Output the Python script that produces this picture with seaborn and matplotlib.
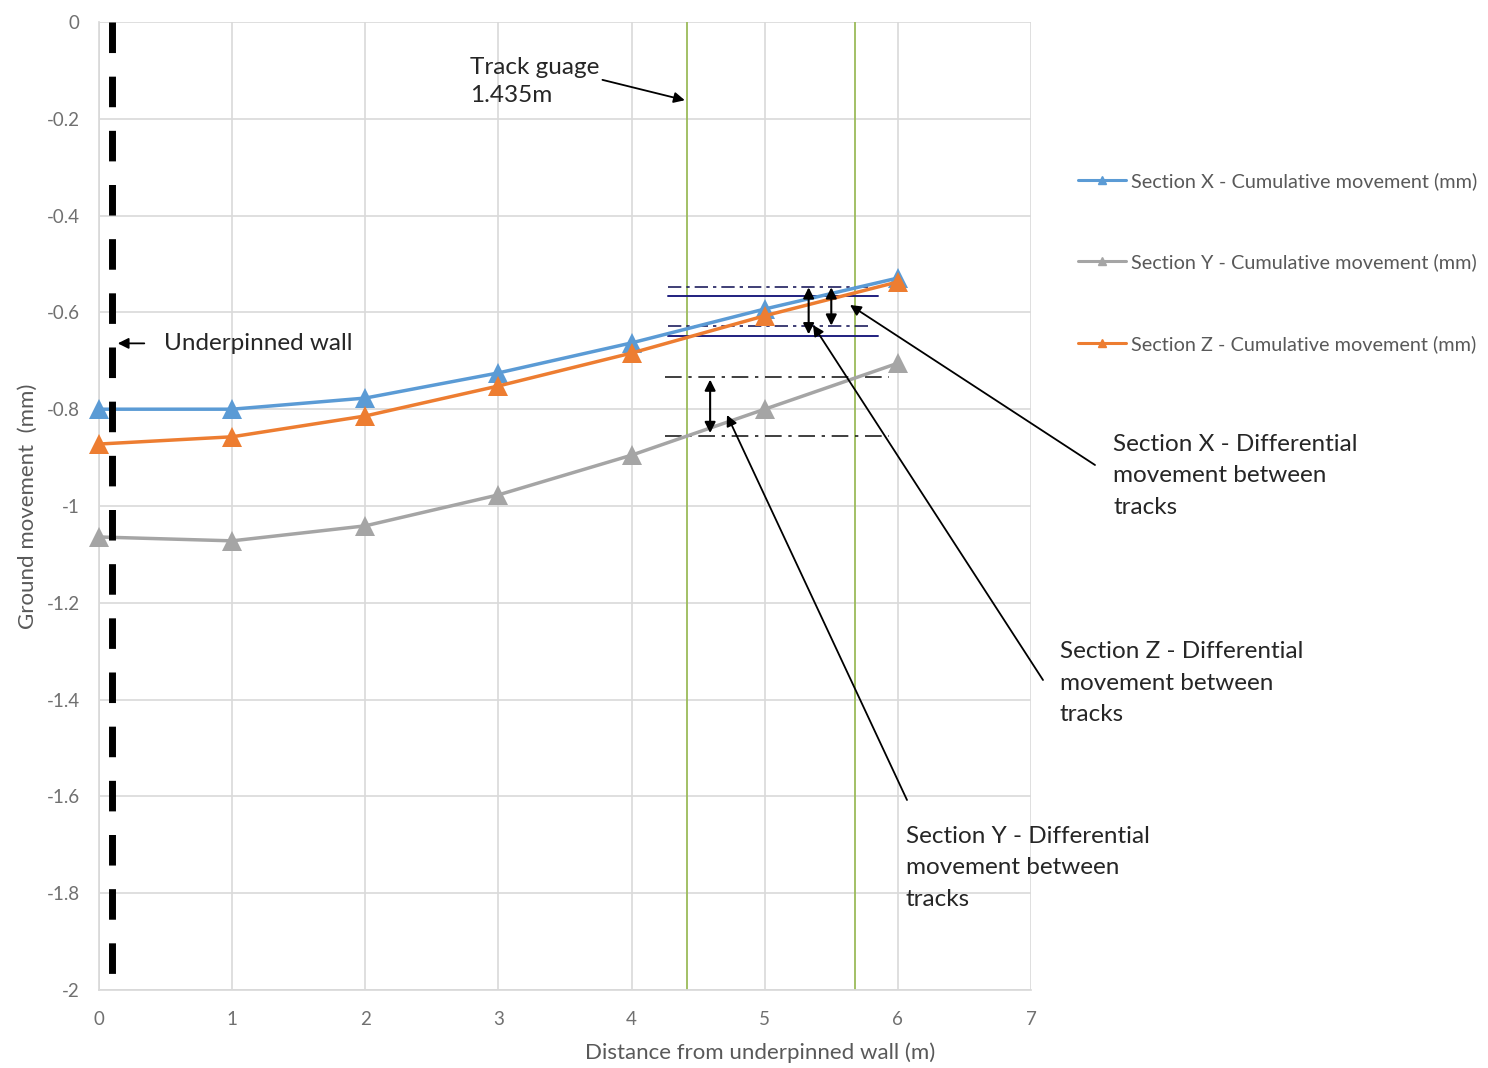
import numpy as np
import pandas as pd
import matplotlib
matplotlib.use("Agg")
import matplotlib.pyplot as plt
import seaborn as sns

## ==========================================
## Data
## ==========================================

distance = [0, 1, 2, 3, 4, 5, 6]

section_x = [-0.80, -0.80, -0.777, -0.725, -0.663, -0.593, -0.529]
section_y = [-1.064, -1.072, -1.041, -0.977, -0.895, -0.80, -0.705]
section_z = [-0.872, -0.857, -0.814, -0.752, -0.684, -0.607, -0.537]

series_names = [
    "Section X - Cumulative movement (mm)",
    "Section Y - Cumulative movement (mm)",
    "Section Z - Cumulative movement (mm)",
]

x_ticks = [0, 1, 2, 3, 4, 5, 6, 7]
y_ticks = [0, -0.2, -0.4, -0.6, -0.8, -1, -1.2, -1.4, -1.6, -1.8, -2]
y_tick_labels = ["0", "-0.2", "-0.4", "-0.6", "-0.8", "-1", "-1.2", "-1.4", "-1.6", "-1.8", "-2"]

wall_x = 0.1
track_rails = [4.42, 5.68]

## reference levels for differential movement
diff_levels_dashdot = [-0.5475, -0.628]
diff_levels_solid = [-0.566, -0.649]
diff_levels_y = [-0.733, -0.855]

## ==========================================
## Long-form table for seaborn
## ==========================================

df = pd.DataFrame({
    "Distance": distance * 3,
    "Movement": section_x + section_y + section_z,
    "Series": [series_names[0]] * 7 + [series_names[1]] * 7 + [series_names[2]] * 7,
})

palette = {
    series_names[0]: "#5B9BD5",
    series_names[1]: "#A5A5A5",
    series_names[2]: "#ED7D31",
}

## ==========================================
## Plot
## ==========================================

sns.set_theme(style="white")
plt.rcParams["font.family"] = ["Lato", "DejaVu Sans"]

fig = plt.figure(figsize=(14.88, 10.68), dpi=100)
ax = fig.add_axes([99 / 1488, 78 / 1068, 932 / 1488, 968 / 1068])

sns.lineplot(
    data=df, x="Distance", y="Movement", hue="Series",
    palette=palette, marker="^", markersize=15, markeredgewidth=0,
    linewidth=2.5, ax=ax, legend=False, zorder=3,
)
for ln in ax.lines:
    ln.set_clip_on(False)

ax.set_xlim(0, 7)
ax.set_ylim(-2, 0)
ax.set_xticks(x_ticks)
ax.set_yticks(y_ticks)
ax.set_yticklabels(y_tick_labels)
ax.grid(True, color="#D9D9D9", linewidth=1.2)
ax.tick_params(axis="both", length=0, labelsize=13.5, labelcolor="#707070")
ax.tick_params(axis="x", pad=15)
ax.tick_params(axis="y", pad=14)

for side in ["top", "right"]:
    ax.spines[side].set_visible(False)
for side in ["left", "bottom"]:
    ax.spines[side].set_color("#D9D9D9")

ax.set_xlabel("Distance from underpinned wall (m)", fontsize=16, color="#595959")
ax.xaxis.set_label_coords((760 - 99) / 932, -(1042 - 990) / 968)
ax.set_ylabel("Ground movement  (mm)", fontsize=16, color="#595959", labelpad=6)

## underpinned wall
ax.plot([wall_x, wall_x], [0, -2], color="black", linewidth=5,
        linestyle=(0, (4.4, 3.4)), zorder=4)

## track rails
for rx in track_rails:
    ax.axvline(rx, color="#9BBB59", linewidth=1.3, zorder=2)

## differential movement guides
for lv in diff_levels_dashdot:
    ax.plot([4.27, 5.8], [lv, lv], color="#1F1F5F", linewidth=1.2,
            linestyle=(0, (8, 3, 2, 3)), zorder=2)
for lv in diff_levels_solid:
    ax.plot([4.27, 5.85], [lv, lv], color="#1F1F7F", linewidth=1.4, zorder=2)
for lv in diff_levels_y:
    ax.plot([4.25, 5.93], [lv, lv], color="#1F1F1F", linewidth=1.2,
            linestyle=(0, (10, 4, 2, 4)), zorder=2)

dbl = dict(arrowstyle="<|-|>", color="black", lw=1.5, mutation_scale=16)
ax.annotate("", xy=(5.33, diff_levels_dashdot[0] + 0.005), xytext=(5.33, diff_levels_solid[1] - 0.002), arrowprops=dbl)
ax.annotate("", xy=(5.50, diff_levels_dashdot[0] + 0.005), xytext=(5.50, diff_levels_dashdot[1] - 0.005), arrowprops=dbl)
ax.annotate("", xy=(4.59, diff_levels_y[0]), xytext=(4.59, diff_levels_y[1]), arrowprops=dbl)

## text annotations
one = dict(arrowstyle="-|>", color="black", lw=1.3, mutation_scale=16)
ax.annotate("Track guage\n1.435m", xy=(track_rails[0], -0.163), xytext=(2.785, -0.123),
            fontsize=17.5, color="#262626", va="center", ha="left", linespacing=1.45,
            arrowprops=dict(one, shrinkA=0, relpos=(1.0, 0.55)))
ax.annotate("Underpinned wall", xy=(wall_x + 0.02, -0.664), xytext=(0.49, -0.664),
            fontsize=17.5, color="#262626", va="center", ha="left",
            arrowprops=dict(one, relpos=(0.0, 0.5), shrinkA=12))

fig.text(1113 / 1488, 1 - 476 / 1068,
         "Section X - Differential\nmovement between\ntracks",
         fontsize=17.5, color="#262626", va="center", ha="left", linespacing=1.6)
fig.text(1060 / 1488, 1 - 683 / 1068,
         "Section Z - Differential\nmovement between\ntracks",
         fontsize=17.5, color="#262626", va="center", ha="left", linespacing=1.6)
fig.text(906 / 1488, 1 - 868 / 1068,
         "Section Y - Differential\nmovement between\ntracks",
         fontsize=17.5, color="#262626", va="center", ha="left", linespacing=1.6)

def px(xp, yp):
    return ((xp - 99) / 932 * 7, -(yp - 22) / 968 * 2)

for tail, head in [((1095, 465), (850, 305)),
                   ((1043, 680), (813, 325)),
                   ((907, 800), (727, 415))]:
    ax.annotate("", xy=px(*head), xytext=px(*tail),
                arrowprops=dict(one, shrinkA=0, shrinkB=0), annotation_clip=False)

## legend outside on the right
handles = [
    plt.Line2D([], [], color=palette[n], marker="^", markersize=6, linewidth=2.2)
    for n in series_names
]
fig.legend(handles, series_names, loc="upper left",
           bbox_to_anchor=(1060 / 1488, 1 - 154 / 1068),
           frameon=False, fontsize=14.3, labelspacing=3.2,
           handlelength=2.4, handletextpad=0.25, labelcolor="#595959")

fig.savefig("out.png", dpi=100)
